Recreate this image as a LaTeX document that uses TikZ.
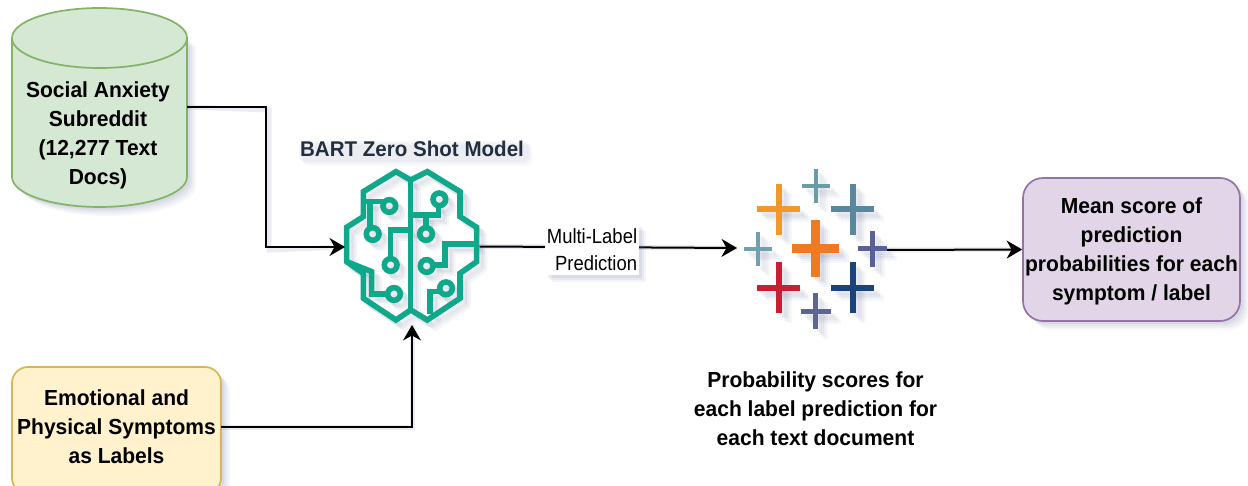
\documentclass[tikz,border=0pt]{standalone}
\usepackage{fontspec}
\setmainfont{Liberation Sans}
\newfontface\lblfont[FakeStretch=0.965]{Liberation Sans Bold}
\newfontface\edgefont[FakeStretch=0.90]{Liberation Sans}
\usetikzlibrary{arrows.meta,calc}
\definecolor{grnF}{HTML}{D5E8D4}\definecolor{grnD}{HTML}{82B366}
\definecolor{ylwF}{HTML}{FFF2CC}\definecolor{ylwD}{HTML}{D6B656}
\definecolor{prpF}{HTML}{E1D5E7}\definecolor{prpD}{HTML}{9673A6}
\definecolor{brainC}{HTML}{0FA88A}\definecolor{bartC}{HTML}{232F3E}
\definecolor{shadowC}{HTML}{5A6690}
\tikzset{
 x=1pt,y=-1pt,
 link/.style={draw=black,line width=2pt,-{Stealth[length=15.5pt,width=18pt,inset=5pt]}},
 linkshadow/.style={draw=shadowC,line width=5pt,opacity=0.12,xshift=3pt,yshift=-3pt},
 lbl/.style={font=\fontsize{21.8}{29}\lblfont,align=center,text=black},
 boxstyle/.style={rounded corners=16pt,line width=1.7pt},
 br/.style={line width=5.6pt,line join=miter,fill=none},
}
\newcommand{\brainpaths}[1]{%
 \begin{scope}[shift={(320,120)},x=.3333pt,y=-.3333pt,br/.append style={draw=#1}]
  \draw[br] (272,180)--(228,155)--(130,215)--(130,290)--(80,322)--(80,425)--(130,460)--(130,535)--(228,600)--(272,570)--(322,600)--(420,535)--(420,460)--(470,425)--(470,322)--(420,290)--(420,215)--(322,155)--cycle;
  \draw[br] (272,180)--(272,570);
  \draw[br] (130,245)--(188,245);
  \draw[br] (150,245)--(150,320);
  \draw[br] (272,330)--(212,330)--(212,412);
  \draw[br] (80,425)--(155,455)--(155,522)--(200,522);
  \draw[br] (272,285)--(355,285)--(355,258);
  \draw[br] (318,285)--(318,320);
  \draw[br] (470,372)--(375,372)--(375,435)--(342,435);
  \draw[br] (360,515)--(330,515)--(330,582);
  \foreach \c in {(208,258),(158,342),(212,435),(222,522),(358,238),(318,342),(320,438),(378,505)}{\draw[br] \c circle[radius=19];}
 \end{scope}}
\begin{document}
\begin{tikzpicture}
\useasboundingbox (0,0) rectangle (1248,486);
% cylinder shadow
\foreach \dd/\oo in {9/0.05,7/0.06,5/0.07,3/0.08}{
 \fill[shadowC,opacity=\oo,xshift=\dd pt,yshift=-\dd pt] (12,38) -- (12,177) .. controls (12,193.6) and (51,207) .. (99.5,207) .. controls (148,207) and (187,193.6) .. (187,177) -- (187,38) -- cycle;
}
% cylinder
\node[inner sep=0pt,minimum width=175pt,minimum height=199pt] (cyl) at (99.5,107.5) {};
\path[fill=grnF,draw=grnD,line width=1.7pt] (12,38) -- (12,177) .. controls (12,193.6) and (51,207) .. (99.5,207) .. controls (148,207) and (187,193.6) .. (187,177) -- (187,38) .. controls (187,21.4) and (148,8) .. (99.5,8) .. controls (51,8) and (12,21.4) .. (12,38) -- cycle;
\draw[draw=grnD,line width=1.7pt] (12,38) .. controls (12,54.6) and (51,68) .. (99.5,68) .. controls (148,68) and (187,54.6) .. (187,38);
\node[lbl] at (98,135) {Social Anxiety\\Subreddit\\(12,277 Text\\Docs)};
% yellow box
\foreach \dd/\oo in {9/0.05,7/0.06,5/0.07,3/0.08}{
 \fill[shadowC,opacity=\oo,rounded corners=16pt,xshift=\dd pt,yshift=-\dd pt] (12,367) rectangle (221,494);}
\draw[fill=ylwF,draw=ylwD,boxstyle] (12,367) rectangle (221,494);
\node[lbl,inner sep=0pt,minimum width=209pt,minimum height=119pt] (sym) at (116.5,427) {Emotional and\\Physical Symptoms\\as Labels};
% purple box
\foreach \dd/\oo in {9/0.05,7/0.06,5/0.07,3/0.08}{
 \fill[shadowC,opacity=\oo,rounded corners=20pt,xshift=\dd pt,yshift=-\dd pt] (1023,178) rectangle (1240,321);}
\node[draw=prpD,fill=prpF,line width=1.7pt,rounded corners=20pt,inner sep=0pt,minimum width=217pt,minimum height=143pt] (mean) at (1131.5,249.5) {};
\node[lbl] at (1131.5,251) {Mean score of\\prediction\\probabilities for each\\symptom / label};
% anchors for the icons
\node[inner sep=0pt,minimum width=135pt,minimum height=155pt] (brain) at (412,246.5) {};
\node[inner sep=0pt,minimum width=143pt,minimum height=160pt] (tab) at (816,250) {};
% connector shadows
\coordinate (c1) at (187,107);
\coordinate (b1) at (345,247);
\coordinate (b2) at (412,325);
\coordinate (t1) at (737,248);
\coordinate (t2) at (887,250);
\draw[linkshadow] (c1) -- (266,107) -- (266,247) -- (b1);
\draw[linkshadow] (sym.east) -- (sym.east -| b2) -- (b2);
\draw[linkshadow] (brain.east) -- (t1);
\draw[linkshadow] (t2) -- (mean.west);
% brain
\foreach \dd/\oo in {8/0.06,6/0.07,4/0.09}{
 \begin{scope}[xshift=\dd pt,yshift=-\dd pt,opacity=\oo]\brainpaths{shadowC}\end{scope}}
\brainpaths{brainC}
% title
\foreach \dd/\oo in {5/0.03,3/0.04,1/0.05}{
 \fill[shadowC,opacity=\oo,rounded corners=6pt] (298+\dd,140+\dd) rectangle (528+\dd,161+\dd);}
\node[font=\fontsize{21.3}{24}\lblfont,text=bartC] (bart) at (412,149) {BART Zero Shot Model};
% tableau crosses
\begin{scope}[shift={(720,150)},x=.3333pt,y=-.3333pt]
\foreach \cx/\cy/\l/\r/\t/\b/\w/\col in {
 176/178/112/240/103/254/18/F0982A,
 287/109/245/330/58/160/12/6A9CA6,
 398/178/334/462/103/254/18/5B879E,
 114/296/72/157/246/347/12/72A0AC,
 287/296/217/358/211/382/26/EE7A24,
 457/296/413/501/242/351/15/5B5F97,
 176/413/112/240/337/490/18/C72035,
 398/413/334/462/337/490/18/1B4379,
 287/484/243/332/430/538/15/5D6595}{
 \foreach \dd/\oo in {30/0.05,24/0.06,18/0.07,12/0.08}{
  \fill[shadowC,opacity=\oo] (\l+\dd,\cy-\w/2+\dd) rectangle (\r+\dd,\cy+\w/2+\dd);
  \fill[shadowC,opacity=\oo] (\cx-\w/2+\dd,\t+\dd) rectangle (\cx+\w/2+\dd,\b+\dd);}
}
\foreach \cx/\cy/\l/\r/\t/\b/\w/\col in {
 176/178/112/240/103/254/18/F0982A,
 287/109/245/330/58/160/12/6A9CA6,
 398/178/334/462/103/254/18/5B879E,
 114/296/72/157/246/347/12/72A0AC,
 287/296/217/358/211/382/26/EE7A24,
 457/296/413/501/242/351/15/5B5F97,
 176/413/112/240/337/490/18/C72035,
 398/413/334/462/337/490/18/1B4379,
 287/484/243/332/430/538/15/5D6595}{
 \definecolor{cc}{HTML}{\col}
 \fill[cc] (\l,\cy-\w/2) rectangle (\r,\cy+\w/2);
 \fill[cc] (\cx-\w/2,\t) rectangle (\cx+\w/2,\b);
}
\end{scope}
\node[lbl] (probs) at (815.5,409) {Probability scores for\\each label prediction for\\each text document};
% connectors
\draw[link] (c1) -- (266,107) -- (266,247) -- (b1);
\draw[link] (sym.east) -- (sym.east -| b2) -- (b2);
\draw[link] (brain.east) -- (t1);
\draw[link] (t2) -- (mean.west);
% edge label
\foreach \dd/\oo in {7/0.07,5/0.08,3/0.10}{
 \fill[shadowC,opacity=\oo] (545+\dd,224+\dd) rectangle (639+\dd,275+\dd);}
\node[fill=white,inner sep=0pt,minimum width=94pt,minimum height=51pt,font=\fontsize{20.5}{27.5}\edgefont,align=right] (ml) at (592,249.5) {Multi-Label\\Prediction};
\end{tikzpicture}
\end{document}
